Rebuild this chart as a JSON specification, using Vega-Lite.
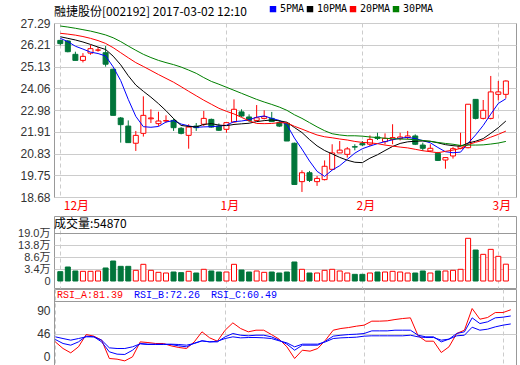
{
"$schema": "https://vega.github.io/schema/vega-lite/v6.json",
"padding": {"left": 17, "top": 3, "right": 2, "bottom": 1},
"background": "white",
"bounds": "flush",
"spacing": 19,
"resolve": {"scale": {"color": "independent"}, "legend": {"color": "independent"}},
"datasets": {"k": [
{"i":0,"o":26.43,"h":26.46,"l":26.18,"c":26.27,"dir":"down","vol":2.25,"5PMA":26.53,"10PMA":26.61,"20PMA":26.78,"30PMA":27.14,"RSI_A":34.1,"RSI_B":37.6,"RSI_C":41.5},
{"i":1,"o":26.40,"h":26.45,"l":25.84,"c":25.87,"dir":"down","vol":4.27,"5PMA":26.37,"10PMA":26.53,"20PMA":26.74,"30PMA":27.09,"RSI_A":24.3,"RSI_B":31.7,"RSI_C":39.0},
{"i":2,"o":25.74,"h":25.87,"l":25.44,"c":25.44,"dir":"down","vol":2.54,"5PMA":26.14,"10PMA":26.45,"20PMA":26.69,"30PMA":27.03,"RSI_A":17.9,"RSI_B":29.2,"RSI_C":36.6},
{"i":3,"o":25.44,"h":25.80,"l":25.34,"c":25.64,"dir":"up","vol":2.40,"5PMA":26.00,"10PMA":26.35,"20PMA":26.62,"30PMA":26.96,"RSI_A":26.8,"RSI_B":34.1,"RSI_C":39.0},
{"i":4,"o":25.80,"h":26.20,"l":25.72,"c":26.02,"dir":"up","vol":2.40,"5PMA":25.85,"10PMA":26.23,"20PMA":26.53,"30PMA":26.89,"RSI_A":44.9,"RSI_B":42.5,"RSI_C":41.5},
{"i":5,"o":25.95,"h":26.10,"l":25.87,"c":25.95,"dir":"up","vol":2.54,"5PMA":25.78,"10PMA":26.10,"20PMA":26.42,"30PMA":26.80,"RSI_A":42.5,"RSI_B":41.5,"RSI_C":41.5},
{"i":6,"o":25.82,"h":26.15,"l":25.13,"c":25.25,"dir":"down","vol":3.84,"5PMA":25.66,"10PMA":25.98,"20PMA":26.28,"30PMA":26.70,"RSI_A":36.6,"RSI_B":34.1,"RSI_C":36.6},
{"i":7,"o":25.00,"h":25.03,"l":22.72,"c":22.72,"dir":"down","vol":6.87,"5PMA":25.12,"10PMA":25.65,"20PMA":26.07,"30PMA":26.56,"RSI_A":9.6,"RSI_B":19.4,"RSI_C":25.3},
{"i":8,"o":22.59,"h":22.64,"l":21.37,"c":22.26,"dir":"down","vol":4.56,"5PMA":24.44,"10PMA":25.22,"20PMA":25.82,"30PMA":26.37,"RSI_A":8.6,"RSI_B":16.0,"RSI_C":24.3},
{"i":9,"o":22.19,"h":22.47,"l":21.37,"c":21.37,"dir":"down","vol":4.56,"5PMA":23.51,"10PMA":24.68,"20PMA":25.57,"30PMA":26.15,"RSI_A":6.1,"RSI_B":15.5,"RSI_C":24.3},
{"i":10,"o":21.34,"h":21.95,"l":20.96,"c":21.73,"dir":"up","vol":2.83,"5PMA":22.67,"10PMA":24.22,"20PMA":25.33,"30PMA":25.94,"RSI_A":12.0,"RSI_B":21.8,"RSI_C":26.8},
{"i":11,"o":21.83,"h":23.66,"l":21.67,"c":22.72,"dir":"up","vol":5.43,"5PMA":22.16,"10PMA":23.91,"20PMA":25.14,"30PMA":25.74,"RSI_A":34.1,"RSI_B":31.7,"RSI_C":31.2},
{"i":12,"o":22.55,"h":23.02,"l":22.34,"c":22.59,"dir":"up","vol":2.83,"5PMA":22.13,"10PMA":23.62,"20PMA":24.94,"30PMA":25.58,"RSI_A":33.1,"RSI_B":30.7,"RSI_C":30.2},
{"i":13,"o":22.31,"h":22.90,"l":22.20,"c":22.44,"dir":"up","vol":1.96,"5PMA":22.17,"10PMA":23.30,"20PMA":24.74,"30PMA":25.44,"RSI_A":31.7,"RSI_B":30.7,"RSI_C":30.2},
{"i":14,"o":22.44,"h":22.72,"l":22.36,"c":22.46,"dir":"up","vol":1.67,"5PMA":22.39,"10PMA":22.95,"20PMA":24.55,"30PMA":25.33,"RSI_A":31.7,"RSI_B":30.7,"RSI_C":30.2},
{"i":15,"o":22.47,"h":22.56,"l":21.95,"c":22.11,"dir":"down","vol":2.10,"5PMA":22.46,"10PMA":22.56,"20PMA":24.36,"30PMA":25.23,"RSI_A":28.2,"RSI_B":30.2,"RSI_C":30.7},
{"i":16,"o":22.08,"h":22.14,"l":21.78,"c":21.83,"dir":"down","vol":1.82,"5PMA":22.29,"10PMA":22.22,"20PMA":24.14,"30PMA":25.11,"RSI_A":25.8,"RSI_B":28.2,"RSI_C":30.2},
{"i":17,"o":21.73,"h":22.28,"l":21.07,"c":22.14,"dir":"up","vol":2.40,"5PMA":22.20,"10PMA":22.17,"20PMA":23.91,"30PMA":24.96,"RSI_A":24.3,"RSI_B":26.8,"RSI_C":29.2},
{"i":18,"o":22.19,"h":22.34,"l":21.95,"c":22.11,"dir":"down","vol":1.67,"5PMA":22.13,"10PMA":22.15,"20PMA":23.69,"30PMA":24.80,"RSI_A":34.1,"RSI_B":32.2,"RSI_C":31.7},
{"i":19,"o":22.28,"h":22.94,"l":22.19,"c":22.57,"dir":"up","vol":3.27,"5PMA":22.15,"10PMA":22.27,"20PMA":23.47,"30PMA":24.59,"RSI_A":48.9,"RSI_B":35.6,"RSI_C":35.6},
{"i":20,"o":22.52,"h":22.56,"l":22.11,"c":22.14,"dir":"down","vol":2.54,"5PMA":22.16,"10PMA":22.31,"20PMA":23.27,"30PMA":24.40,"RSI_A":40.0,"RSI_B":34.1,"RSI_C":34.1},
{"i":21,"o":22.19,"h":22.32,"l":21.95,"c":21.98,"dir":"down","vol":2.10,"5PMA":22.19,"10PMA":22.24,"20PMA":23.07,"30PMA":24.26,"RSI_A":35.1,"RSI_B":34.1,"RSI_C":35.1},
{"i":22,"o":22.03,"h":22.39,"l":21.86,"c":22.36,"dir":"up","vol":2.10,"5PMA":22.23,"10PMA":22.21,"20PMA":22.92,"30PMA":24.11,"RSI_A":51.3,"RSI_B":41.5,"RSI_C":39.0},
{"i":23,"o":22.39,"h":23.51,"l":22.36,"c":23.02,"dir":"up","vol":5.43,"5PMA":22.41,"10PMA":22.27,"20PMA":22.79,"30PMA":23.96,"RSI_A":62.1,"RSI_B":46.4,"RSI_C":41.5},
{"i":24,"o":22.89,"h":23.02,"l":22.64,"c":22.69,"dir":"down","vol":2.97,"5PMA":22.44,"10PMA":22.30,"20PMA":22.62,"30PMA":23.81,"RSI_A":53.8,"RSI_B":43.9,"RSI_C":40.0},
{"i":25,"o":22.64,"h":22.77,"l":22.39,"c":22.47,"dir":"down","vol":2.10,"5PMA":22.50,"10PMA":22.33,"20PMA":22.45,"30PMA":23.66,"RSI_A":48.9,"RSI_B":43.0,"RSI_C":40.5},
{"i":26,"o":22.47,"h":23.23,"l":22.44,"c":22.60,"dir":"up","vol":2.54,"5PMA":22.63,"10PMA":22.41,"20PMA":22.32,"30PMA":23.51,"RSI_A":51.3,"RSI_B":43.9,"RSI_C":40.5},
{"i":27,"o":22.57,"h":22.97,"l":22.52,"c":22.66,"dir":"up","vol":1.96,"5PMA":22.69,"10PMA":22.46,"20PMA":22.31,"30PMA":23.38,"RSI_A":51.3,"RSI_B":43.9,"RSI_C":40.0},
{"i":28,"o":22.57,"h":22.89,"l":22.39,"c":22.41,"dir":"down","vol":2.10,"5PMA":22.57,"10PMA":22.49,"20PMA":22.32,"30PMA":23.26,"RSI_A":44.9,"RSI_B":41.5,"RSI_C":39.0},
{"i":29,"o":22.36,"h":22.47,"l":22.14,"c":22.19,"dir":"down","vol":1.67,"5PMA":22.47,"10PMA":22.45,"20PMA":22.36,"30PMA":23.13,"RSI_A":38.0,"RSI_B":36.6,"RSI_C":35.6},
{"i":30,"o":22.33,"h":22.36,"l":21.45,"c":21.45,"dir":"down","vol":2.10,"5PMA":22.26,"10PMA":22.38,"20PMA":22.35,"30PMA":22.97,"RSI_A":26.8,"RSI_B":30.7,"RSI_C":32.6},
{"i":31,"o":21.34,"h":21.37,"l":19.30,"c":19.30,"dir":"down","vol":6.44,"5PMA":21.60,"10PMA":22.12,"20PMA":22.18,"30PMA":22.75,"RSI_A":9.6,"RSI_B":21.8,"RSI_C":26.8},
{"i":32,"o":19.44,"h":20.00,"l":18.93,"c":19.88,"dir":"up","vol":3.27,"5PMA":21.05,"10PMA":21.87,"20PMA":22.04,"30PMA":22.57,"RSI_A":21.8,"RSI_B":29.2,"RSI_C":30.7},
{"i":33,"o":19.88,"h":19.97,"l":19.42,"c":19.50,"dir":"down","vol":1.67,"5PMA":20.46,"10PMA":21.52,"20PMA":21.89,"30PMA":22.36,"RSI_A":20.4,"RSI_B":29.2,"RSI_C":30.7},
{"i":34,"o":19.44,"h":19.72,"l":19.23,"c":19.60,"dir":"up","vol":1.67,"5PMA":19.95,"10PMA":21.21,"20PMA":21.75,"30PMA":22.15,"RSI_A":24.3,"RSI_B":29.2,"RSI_C":30.7},
{"i":35,"o":19.54,"h":20.49,"l":19.50,"c":20.20,"dir":"up","vol":2.83,"5PMA":19.70,"10PMA":20.98,"20PMA":21.66,"30PMA":21.96,"RSI_A":36.6,"RSI_B":35.1,"RSI_C":34.1},
{"i":36,"o":20.05,"h":21.29,"l":20.05,"c":20.86,"dir":"up","vol":3.27,"5PMA":20.01,"10PMA":20.81,"20PMA":21.61,"30PMA":21.81,"RSI_A":51.3,"RSI_B":42.5,"RSI_C":39.0},
{"i":37,"o":20.86,"h":21.45,"l":20.86,"c":21.00,"dir":"up","vol":2.54,"5PMA":20.23,"10PMA":20.64,"20PMA":21.55,"30PMA":21.75,"RSI_A":53.8,"RSI_B":43.9,"RSI_C":40.0},
{"i":38,"o":20.79,"h":21.15,"l":20.63,"c":21.06,"dir":"up","vol":1.67,"5PMA":20.54,"10PMA":20.50,"20PMA":21.50,"30PMA":21.71,"RSI_A":55.2,"RSI_B":44.9,"RSI_C":40.5},
{"i":39,"o":21.17,"h":21.29,"l":20.99,"c":21.15,"dir":"down","vol":1.09,"5PMA":20.85,"10PMA":20.40,"20PMA":21.43,"30PMA":21.71,"RSI_A":57.2,"RSI_B":45.4,"RSI_C":41.0},
{"i":40,"o":21.32,"h":21.45,"l":21.20,"c":21.26,"dir":"down","vol":1.09,"5PMA":21.07,"10PMA":20.38,"20PMA":21.38,"30PMA":21.69,"RSI_A":58.7,"RSI_B":46.4,"RSI_C":42.5},
{"i":41,"o":21.29,"h":21.73,"l":21.20,"c":21.53,"dir":"up","vol":1.67,"5PMA":21.20,"10PMA":20.60,"20PMA":21.36,"30PMA":21.65,"RSI_A":64.6,"RSI_B":50.3,"RSI_C":43.0},
{"i":42,"o":21.65,"h":21.86,"l":21.50,"c":21.58,"dir":"down","vol":2.10,"5PMA":21.32,"10PMA":20.77,"20PMA":21.32,"30PMA":21.62,"RSI_A":64.6,"RSI_B":50.3,"RSI_C":43.0},
{"i":43,"o":21.42,"h":21.83,"l":21.29,"c":21.58,"dir":"up","vol":2.10,"5PMA":21.42,"10PMA":20.98,"20PMA":21.25,"30PMA":21.59,"RSI_A":65.1,"RSI_B":50.3,"RSI_C":43.0},
{"i":44,"o":21.53,"h":22.28,"l":21.29,"c":21.62,"dir":"up","vol":2.40,"5PMA":21.51,"10PMA":21.18,"20PMA":21.20,"30PMA":21.56,"RSI_A":67.0,"RSI_B":51.3,"RSI_C":43.0},
{"i":45,"o":21.57,"h":21.86,"l":21.48,"c":21.65,"dir":"up","vol":2.10,"5PMA":21.59,"10PMA":21.33,"20PMA":21.15,"30PMA":21.55,"RSI_A":68.5,"RSI_B":51.3,"RSI_C":43.0},
{"i":46,"o":21.62,"h":21.95,"l":21.53,"c":21.70,"dir":"up","vol":1.67,"5PMA":21.63,"10PMA":21.41,"20PMA":21.11,"30PMA":21.54,"RSI_A":69.5,"RSI_B":51.3,"RSI_C":43.9},
{"i":47,"o":21.70,"h":21.78,"l":21.25,"c":21.29,"dir":"down","vol":1.67,"5PMA":21.57,"10PMA":21.44,"20PMA":21.04,"30PMA":21.51,"RSI_A":43.0,"RSI_B":43.9,"RSI_C":41.5},
{"i":48,"o":21.25,"h":21.37,"l":20.96,"c":21.09,"dir":"down","vol":2.54,"5PMA":21.47,"10PMA":21.45,"20PMA":20.97,"30PMA":21.48,"RSI_A":35.1,"RSI_B":41.5,"RSI_C":40.5},
{"i":49,"o":20.96,"h":21.29,"l":20.91,"c":21.09,"dir":"up","vol":1.67,"5PMA":21.36,"10PMA":21.44,"20PMA":20.92,"30PMA":21.43,"RSI_A":35.1,"RSI_B":41.5,"RSI_C":40.5},
{"i":50,"o":20.84,"h":20.91,"l":20.46,"c":20.49,"dir":"down","vol":2.54,"5PMA":21.13,"10PMA":21.36,"20PMA":20.87,"30PMA":21.38,"RSI_A":18.4,"RSI_B":34.1,"RSI_C":36.6},
{"i":51,"o":20.51,"h":20.63,"l":20.08,"c":20.63,"dir":"up","vol":2.54,"5PMA":20.92,"10PMA":21.27,"20PMA":20.94,"30PMA":21.33,"RSI_A":26.8,"RSI_B":38.1,"RSI_C":38.1},
{"i":52,"o":20.71,"h":21.15,"l":20.58,"c":21.07,"dir":"up","vol":2.83,"5PMA":20.87,"10PMA":21.22,"20PMA":21.00,"30PMA":21.29,"RSI_A":46.4,"RSI_B":46.4,"RSI_C":43.0},
{"i":53,"o":21.09,"h":21.86,"l":21.04,"c":21.22,"dir":"up","vol":3.27,"5PMA":20.90,"10PMA":21.19,"20PMA":21.08,"30PMA":21.23,"RSI_A":51.3,"RSI_B":48.9,"RSI_C":43.9},
{"i":54,"o":21.12,"h":23.27,"l":21.09,"c":23.27,"dir":"up","vol":16.70,"5PMA":21.34,"10PMA":21.35,"20PMA":21.27,"30PMA":21.25,"RSI_A":83.2,"RSI_B":69.5,"RSI_C":55.7},
{"i":55,"o":23.51,"h":23.51,"l":22.52,"c":22.57,"dir":"down","vol":11.63,"5PMA":21.75,"10PMA":21.44,"20PMA":21.39,"30PMA":21.25,"RSI_A":67.5,"RSI_B":61.1,"RSI_C":51.3},
{"i":56,"o":22.57,"h":23.48,"l":22.52,"c":22.97,"dir":"up","vol":9.76,"5PMA":22.22,"10PMA":21.57,"20PMA":21.49,"30PMA":21.26,"RSI_A":70.0,"RSI_B":63.6,"RSI_C":52.8},
{"i":57,"o":22.57,"h":24.67,"l":22.52,"c":23.88,"dir":"up","vol":11.92,"5PMA":22.78,"10PMA":21.83,"20PMA":21.64,"30PMA":21.30,"RSI_A":77.3,"RSI_B":69.5,"RSI_C":56.2},
{"i":58,"o":23.76,"h":24.42,"l":23.46,"c":23.88,"dir":"up","vol":8.89,"5PMA":23.31,"10PMA":22.11,"20PMA":21.78,"30PMA":21.35,"RSI_A":77.3,"RSI_B":70.5,"RSI_C":58.7},
{"i":59,"o":23.76,"h":24.45,"l":23.56,"c":24.42,"dir":"up","vol":5.49,"5PMA":23.54,"10PMA":22.44,"20PMA":21.94,"30PMA":21.43,"RSI_A":81.39,"RSI_B":72.26,"RSI_C":60.49}
]},
"config": {
  "view": {"stroke": "#999999", "strokeWidth": 1},
  "axis": {"labelFont": "Liberation Sans", "labelFontSize": 12, "labelColor": "#333333", "ticks": false, "domain": false, "gridColor": "#cccccc", "gridWidth": 1, "labelPadding": 4, "labelOverlap": false},
  "title": {"font": "Noto Sans CJK SC", "fontSize": 12, "fontWeight": "normal", "color": "#000000", "anchor": "start", "frame": "group"}
},
"vconcat": [
  {
    "width": 462, "height": 174,
    "title": {"text": "融捷股份[002192] 2017-03-02 12:10", "offset": -15},
    "data": {"name": "k"},
    "encoding": {
      "x": {"field": "i", "type": "quantitative", "scale": {"domain": [-0.17, 59.68], "nice": false, "zero": false},
        "axis": {"title": null, "orient": "bottom", "values": [0, 22, 40, 58],
          "labelExpr": "datum.value == 0 ? '12月' : datum.value == 22 ? '1月' : datum.value == 40 ? '2月' : '3月'",
          "labelColor": "#ff0000", "labelFont": "Noto Sans CJK SC", "labelFontSize": 12, "labelPadding": 3, "labelOffset": 3,
          "labelAlign": {"condition": {"test": "datum.value == 0", "value": "left"}, "value": "center"},
          "labelFlush": false, "labelBound": false, "labelOverlap": false,
          "grid": true, "gridDash": [4, 3], "gridColor": "#cccccc"}},
      "y": {"field": "l", "type": "quantitative", "scale": {"domain": [18.68, 27.29], "nice": false, "zero": false},
        "axis": {"title": null, "values": [18.68, 19.75, 20.83, 21.91, 22.98, 24.06, 25.13, 26.21, 27.29], "format": ".2f", "grid": true, "labelFlush": false, "labelOverlap": false, "labelBound": false}}
    },
    "layer": [
      {"mark": {"type": "rule", "strokeWidth": 1},
       "encoding": {
         "y2": {"field": "h"},
         "stroke": {"field": "dir", "type": "nominal", "scale": {"domain": ["up", "down"], "range": ["#ff0000", "#00753a"]}, "legend": null}
       }},
      {"mark": {"type": "bar", "width": 5, "strokeWidth": 1},
       "encoding": {
         "y": {"field": "o", "type": "quantitative"},
         "y2": {"field": "c"},
         "stroke": {"field": "dir", "type": "nominal", "scale": {"domain": ["up", "down"], "range": ["#ff0000", "#00753a"]}, "legend": null},
         "fill": {"field": "dir", "type": "nominal", "scale": {"domain": ["up", "down"], "range": ["#ffffff", "#00753a"]}, "legend": null}
       }},
      {"transform": [{"fold": ["5PMA", "10PMA", "20PMA", "30PMA"], "as": ["ma", "v"]}],
       "mark": {"type": "line", "strokeWidth": 1},
       "encoding": {
         "y": {"field": "v", "type": "quantitative"},
         "color": {"field": "ma", "type": "nominal", "sort": ["5PMA", "10PMA", "20PMA", "30PMA"],
           "scale": {"domain": ["5PMA", "10PMA", "20PMA", "30PMA"], "range": ["#0000ff", "#000000", "#ff0000", "#008000"]},
           "legend": {"orient": "none", "legendX": 214, "legendY": -19, "direction": "horizontal", "title": null,
             "symbolType": "square", "symbolSize": 12, "symbolStrokeWidth": 3, "labelFont": "DejaVu Sans Mono", "labelFontSize": 10,
             "labelColor": "#000000", "columnPadding": -5, "labelOffset": 2}}
       }}
    ]
  },
  {
    "bounds": "flush",
    "spacing": 1,
    "resolve": {"scale": {"color": "independent"}, "legend": {"color": "independent"}},
    "vconcat": [
      {
        "width": 462, "height": 72,
        "title": {"text": "成交量:54870", "offset": -15, "baseline": "top"},
        "data": {"name": "k"},
        "mark": {"type": "bar", "width": 5, "strokeWidth": 1},
        "encoding": {
          "x": {"field": "i", "type": "quantitative", "scale": {"domain": [-0.17, 59.68], "nice": false, "zero": false},
            "axis": {"title": null, "values": [0, 22, 40, 58], "labels": false, "grid": true, "gridDash": [4, 3], "gridColor": "#cccccc"}},
          "y": {"field": "vol", "type": "quantitative", "scale": {"domain": [-4.83, 26.37], "nice": false, "zero": false},
            "axis": {"title": null, "values": [-1.8, 3.4, 8.6, 13.8, 19],
              "labelExpr": "datum.value < 0 ? '0' : format(datum.value, '.1f') + '万'",
              "labelFont": "Liberation Sans, Noto Sans CJK SC", "labelFontSize": 11,
              "gridColor": {"condition": {"test": "datum.value > 18", "value": "#999999"}, "value": "#cccccc"},
              "gridOpacity": {"condition": {"test": "datum.value < 0", "value": 0}, "value": 1}}},
          "y2": {"datum": -1.8},
          "stroke": {"field": "dir", "type": "nominal", "scale": {"domain": ["up", "down"], "range": ["#ff0000", "#00753a"]}, "legend": null},
          "fill": {"field": "dir", "type": "nominal", "scale": {"domain": ["up", "down"], "range": ["#ffffff", "#00753a"]}, "legend": null}
        }
      },
      {
        "width": 462, "height": 76,
        "data": {"name": "k"},
        "transform": [{"fold": ["RSI_A", "RSI_B", "RSI_C"], "as": ["s", "v"]}],
        "mark": {"type": "line", "strokeWidth": 1},
        "encoding": {
          "x": {"field": "i", "type": "quantitative", "scale": {"domain": [-0.17, 59.68], "nice": false, "zero": false},
            "axis": {"title": null, "values": [0, 22, 40, 58], "labels": false, "grid": true, "gridDash": [4, 3], "gridColor": "#cccccc"}},
          "y": {"field": "v", "type": "quantitative", "scale": {"domain": [0, 112], "nice": false, "zero": false},
            "axis": {"title": null, "values": [0, 46, 90, 94.1],
              "labelExpr": "datum.value > 93 ? '' : datum.label",
              "gridColor": {"condition": {"test": "datum.value > 93", "value": "#999999"}, "value": "#cccccc"},
              "gridOpacity": {"condition": {"test": "datum.value == 46 || datum.value > 93", "value": 1}, "value": 0},
              "labelOffset": {"condition": [{"test": "datum.value == 90", "value": 7}, {"test": "datum.value == 0", "value": -9}], "value": 0}}},
          "color": {"field": "s", "type": "nominal",
            "scale": {"domain": ["RSI_A", "RSI_B", "RSI_C"], "range": ["#ff0000", "#0000ff", "#0000ff"]},
            "legend": {"orient": "none", "legendX": -7, "legendY": 1, "direction": "horizontal", "title": null,
              "symbolSize": 0, "symbolStrokeWidth": 0, "symbolOpacity": 0, "labelOffset": 0, "columnPadding": -5,
              "labelFont": "Liberation Mono", "labelFontSize": 10,
              "labelExpr": "datum.value == 'RSI_A' ? 'RSI_A:81.39' : datum.value == 'RSI_B' ? 'RSI_B:72.26' : 'RSI_C:60.49'",
              "labelColor": {"expr": "datum.value == 'RSI_A' ? '#ff0000' : '#0000ff'"}}}
        }
      }
    ]
  }
]
}
